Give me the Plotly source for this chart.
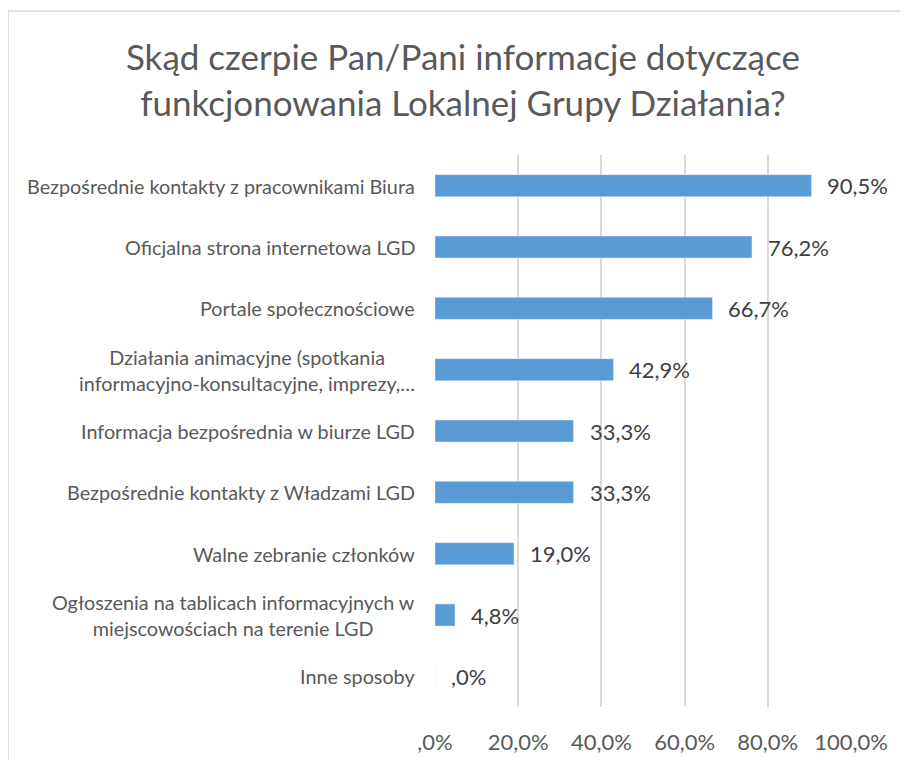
import plotly.graph_objects as go

categories = [
    "Bezpośrednie kontakty z pracownikami Biura",
    "Oficjalna strona internetowa LGD",
    "Portale społecznościowe",
    "Działania animacyjne (spotkania<br>informacyjno-konsultacyjne, imprezy,…",
    "Informacja bezpośrednia w biurze LGD",
    "Bezpośrednie kontakty z Władzami LGD",
    "Walne zebranie członków",
    "Ogłoszenia na tablicach informacyjnych w<br>miejscowościach na terenie LGD",
    "Inne sposoby",
]
values = [90.5, 76.2, 66.7, 42.9, 33.3, 33.3, 19.0, 4.8, 0.0]
tick_vals = [0, 20, 40, 60, 80, 100]
tick_text = [",0%", "20,0%", "40,0%", "60,0%", "80,0%", "100,0%"]


def fmt(v):
    s = f"{v:.1f}".replace(".", ",")
    if s.startswith("0,"):
        s = s[1:]
    return s + "%"


labels = [fmt(v) for v in values]
TXT = "#595959"
FONT = "Lato, Carlito, Calibri, sans-serif"

fig = go.Figure(
    go.Bar(
        x=values,
        y=categories,
        orientation="h",
        marker=dict(color="#5B9BD5"),
        width=0.36,
        hoverinfo="skip",
    )
)

for c in categories:
    fig.add_annotation(
        x=0, xref="paper", y=c, yref="y",
        text=c, showarrow=False, xanchor="right", align="center",
        xshift=-18, font=dict(size=19.8, color=TXT, family=FONT),
    )

for c, v, t in zip(categories, values, labels):
    fig.add_annotation(
        x=v, xref="x", y=c, yref="y",
        text=t, showarrow=False, xanchor="left",
        xshift=14, font=dict(size=22, color="#404040", family=FONT),
    )

fig.update_layout(
    width=908, height=760,
    margin=dict(l=427, r=65, t=147, b=61),
    paper_bgcolor="white", plot_bgcolor="white",
    title=dict(
        text="Skąd czerpie Pan/Pani informacje dotyczące<br>funkcjonowania Lokalnej Grupy Działania?",
        x=0.501, xref="container", xanchor="center",
        y=0.918, yref="container", yanchor="top",
        font=dict(size=35, color=TXT, family=FONT),
    ),
    font=dict(family=FONT, color=TXT),
    showlegend=False,
    shapes=[dict(type="rect", xref="paper", yref="paper",
                 x0=-1.0264, x1=1.3, y0=-0.3, y1=1.2609,
                 line=dict(color="#d9d9d9", width=1.5))],
)
fig.update_xaxes(
    range=[0, 100], tickvals=tick_vals, ticktext=tick_text,
    showgrid=True, gridcolor="#d9d9d9", gridwidth=1.5,
    zeroline=False, showline=False,
    tickfont=dict(size=22, color=TXT, family=FONT),
    ticks="", ticklabelstandoff=20,
)
fig.update_yaxes(
    autorange="reversed", showticklabels=False, showgrid=False,
    showline=False, zeroline=False, ticks="",
)

fig.write_html("out.html")
